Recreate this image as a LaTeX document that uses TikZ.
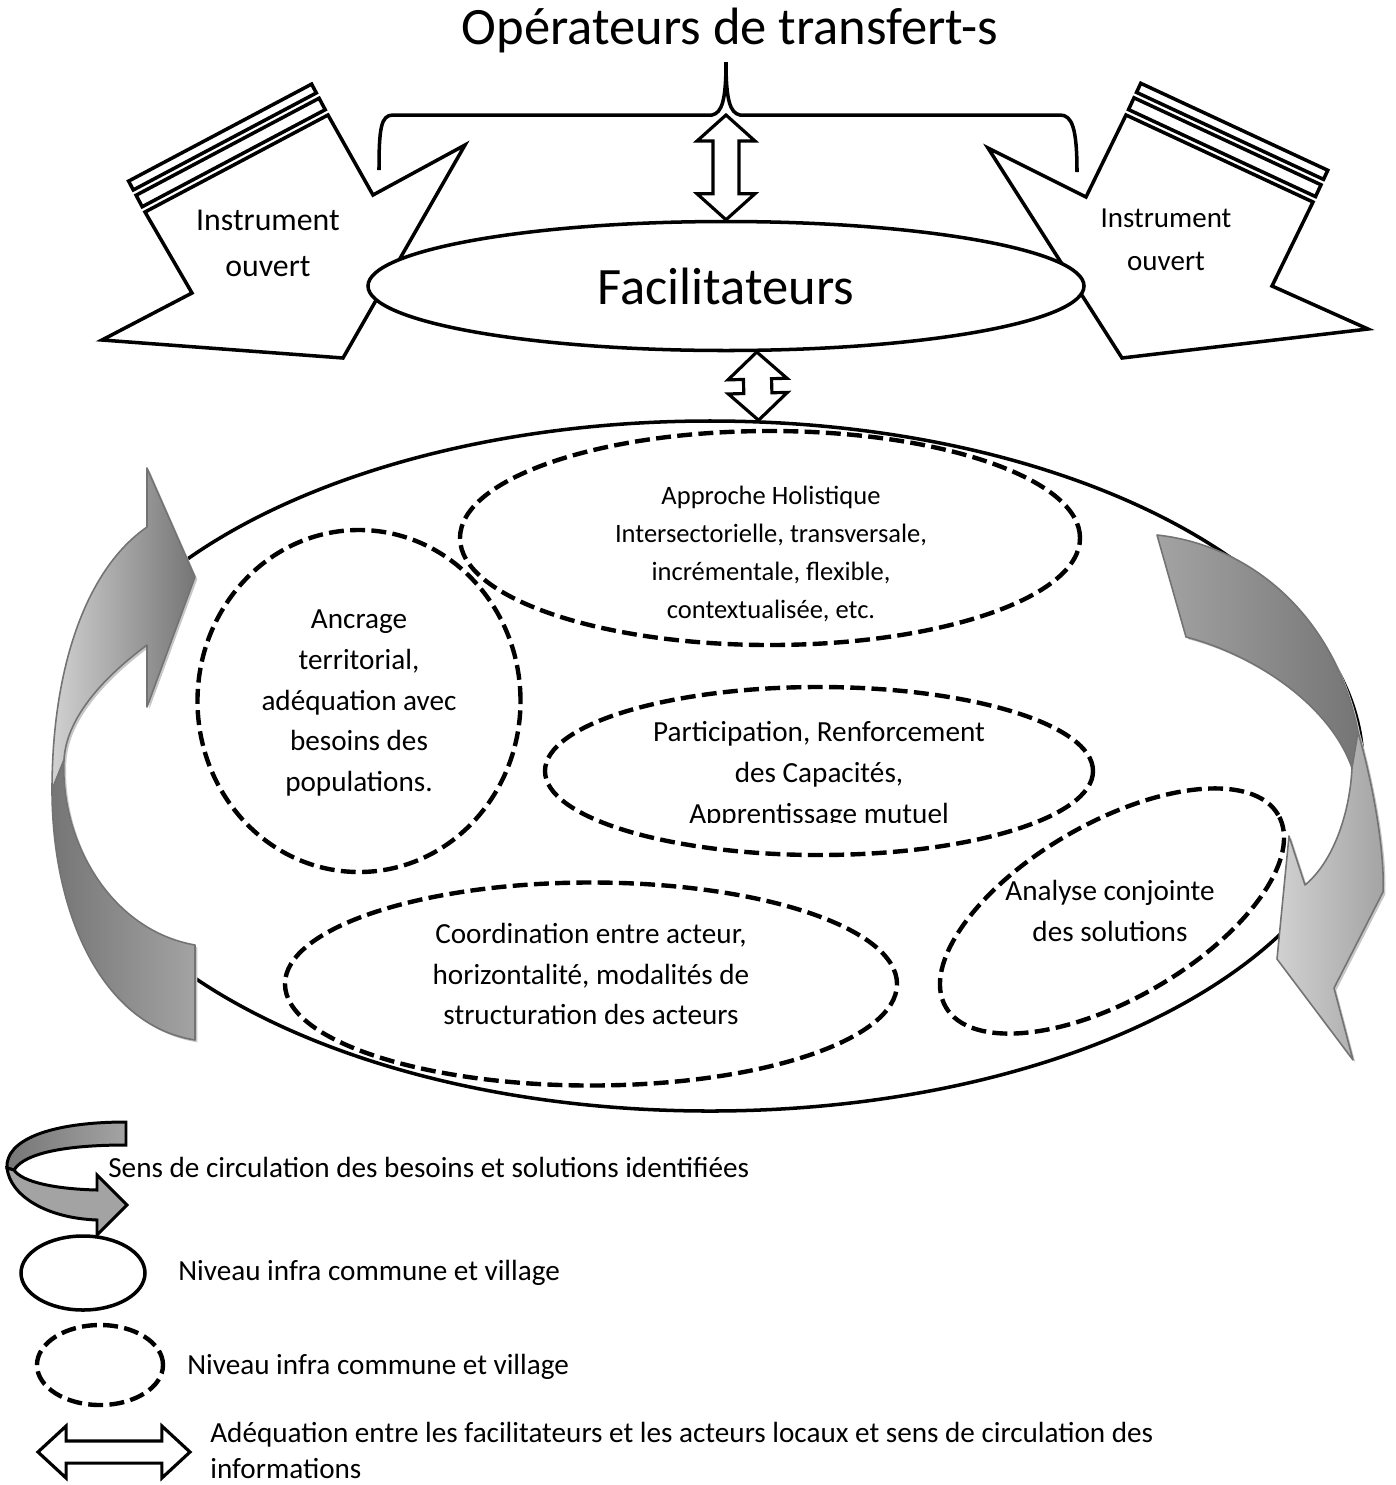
\documentclass[tikz,border=0pt]{standalone}
\usepackage{fontspec}
\setmainfont{Carlito}
\usetikzlibrary{shapes.geometric,calc,shadows}

\definecolor{ribbonlight}{gray}{0.82}
\definecolor{ribbonmid}{gray}{0.64}
\definecolor{ribbondark}{gray}{0.46}
\definecolor{ribbonedge}{gray}{0.45}
\definecolor{ribbonshade}{gray}{0.78}

\newcommand{\bigsize}{\fontsize{29.9}{36}\selectfont}
\newcommand{\bodysize}{\fontsize{16.6}{23.3}\selectfont}

% fat two-headed connector: from, to, shaft half width, head half width, head length
\newcommand{\twoway}[5]{%
  \draw[fatarrow] (#1)
    -- ($(#1)!#5!(#2)!#4!90:(#2)$)
    -- ($(#1)!#5!(#2)!#3!90:(#2)$)
    -- ($(#2)!#5!(#1)!#3!-90:(#1)$)
    -- ($(#2)!#5!(#1)!#4!-90:(#1)$)
    -- (#2)
    -- ($(#2)!#5!(#1)!#4!90:(#1)$)
    -- ($(#2)!#5!(#1)!#3!90:(#1)$)
    -- ($(#1)!#5!(#2)!#3!-90:(#2)$)
    -- ($(#1)!#5!(#2)!#4!-90:(#2)$)
    -- cycle;}
% band laid along the top edge a--b, between offsets #3 and #4
\newcommand{\stripe}[4]{%
  \draw[outline, fill=white] ($(#1)!#3!90:(#2)$) -- ($(#1)!#4!90:(#2)$)
    -- ($(#2)!#4!-90:(#1)$) -- ($(#2)!#3!-90:(#1)$) -- cycle;}

\begin{document}
\begin{tikzpicture}[
    x=0.2mm, y=-0.2mm,
    outline/.style={draw=black, line width=2pt, line join=miter},
    fatarrow/.style={draw=black, line width=1.8pt, fill=white, line join=miter},
    ring/.style={ellipse, draw=black, line width=2pt, inner sep=0pt},
    zone/.style={ellipse, draw=black, line width=2.5pt, inner sep=0pt,
                 dash pattern=on 8.5pt off 3.6pt},
    ztext/.style={align=center, font=\bodysize, inner sep=0pt},
    ribbon/.style={draw=ribbonedge, line width=0.9pt, line join=round,
                   drop shadow={shadow xshift=1.3pt, shadow yshift=-1.3pt,
                                fill=ribbonshade, opacity=1}},
    keyribbon/.style={draw=black, line width=1.7pt, line join=miter}]
  \useasboundingbox (0,0) rectangle (1396,1485);

  %% Title and brace
  \node[font=\bigsize] (title) at (730,30) {Opérateurs de transfert-s};
  \draw[outline] (379,170) .. controls (379,128) and (381,115) .. (393,115)
    -- (712,115) .. controls (722,113) and (726,100) .. (726,62)
    .. controls (726,100) and (730,113) .. (740,115)
    -- (1060,115) .. controls (1072,115) and (1077,128) .. (1077,172);
  \coordinate (bracetip) at (726,115);

  %% Open instrument, left
  \coordinate (la) at (145,212);
  \coordinate (lb) at (328,115);
  \draw[outline, fill=white] (la) -- (lb) -- (373,195) -- (465,145)
    -- (343,358) -- (102,340) -- (192,293) -- cycle;
  \stripe{la}{lb}{3.4pt}{10.8pt}
  \stripe{la}{lb}{14.2pt}{19.9pt}
  \node[align=center, font=\fontsize{18.1}{26.2}\selectfont] (instl) at (268,243)
    {Instrument\\ouvert};

  %% Open instrument, right
  \coordinate (ra) at (1126,115);
  \coordinate (rb) at (1313,202);
  \draw[outline, fill=white] (988,148) -- (1086,197) -- (ra) -- (rb)
    -- (1272,286) -- (1368,329) -- (1122,358) -- cycle;
  \stripe{ra}{rb}{3.4pt}{10.8pt}
  \stripe{ra}{rb}{14.2pt}{19.9pt}
  \node[align=center, font=\fontsize{16.5}{24.5}\selectfont] (instr) at (1166,240)
    {Instrument\\ouvert};

  %% Facilitators
  \node[ring, fill=white, minimum width=143.2mm, minimum height=25.8mm,
        font=\bigsize] (fac) at (726,286) {Facilitateurs};
  \twoway{bracetip}{fac.north}{7.4pt}{16.5pt}{14.8pt}

  %% Local level
  \node[ring, minimum width=261.2mm, minimum height=138mm] (commune) at (710,766) {};
  \twoway{fac.-65.6}{commune.82.5}{8pt}{16.8pt}{15.4pt}

  \node[zone, minimum width=124mm, minimum height=42.8mm] (holist) at (770,538) {};
  \node[ztext, font=\fontsize{15.1}{21.8}\selectfont] (holisttxt) at (771,554)
    {Approche Holistique\\Intersectorielle, transversale,\\incrémentale, flexible,\\contextualisée, etc.};
  \node[zone, minimum width=64.6mm, minimum height=68.4mm] (ancrage) at (359,701) {};
  \node[ztext] (ancragetxt) at (359,703)
    {Ancrage\\territorial,\\adéquation avec\\besoins des\\populations.};
  \node[zone, minimum width=109.6mm, minimum height=33.6mm] (partic) at (819,771) {};
  \begin{scope}
    \clip (540,690) rectangle (1100,822);
    \node[ztext] (partictxt) at (819,775)
      {Participation, Renforcement\\des Capacités,\\Apprentissage mutuel};
  \end{scope}
  \node[zone, rotate=30, minimum width=76.8mm, minimum height=35.2mm] (analyse) at (1112,911) {};
  \node[ztext] (analysetxt) at (1110,911) {Analyse conjointe\\des solutions};
  \node[zone, minimum width=122.4mm, minimum height=40.6mm] (coord) at (591,984) {};
  \node[ztext] (coordtxt) at (591,974)
    {Coordination entre acteur,\\horizontalité, modalités de\\structuration des acteurs};

  %% Circulation arrows, left
  \path[ribbon, left color=ribbonlight, right color=ribbondark]
    (52,790) .. controls (52,670) and (85,570) .. (147,527) -- (147,468)
    -- (195,577) -- (147,707) -- (147,645)
    .. controls (100,680) and (66,720) .. (64,760) -- cycle;
  \path[ribbon, left color=ribbondark, right color=ribbonmid]
    (52,790) .. controls (52,910) and (100,1025) .. (195,1040) -- (195,945)
    .. controls (110,930) and (60,840) .. (64,760) -- cycle;

  %% Circulation arrows, right
  \path[ribbon, left color=ribbonmid, right color=ribbondark]
    (1157,535) .. controls (1250,545) and (1335,615) .. (1358,732) -- (1352,768)
    .. controls (1330,705) and (1255,655) .. (1186,637) -- cycle;
  \path[ribbon, left color=ribbonlight, right color=ribbonmid]
    (1358,732) .. controls (1372,780) and (1385,850) .. (1383,892) -- (1334,988)
    -- (1353,1060) -- (1277,959) -- (1289,836) -- (1305,885)
    .. controls (1335,860) and (1350,810) .. (1352,768) -- cycle;

  %% Legend
  \path[keyribbon, left color=ribbondark, right color=ribbonmid]
    (126,1122) -- (126,1145) .. controls (70,1145) and (25,1152) .. (14,1170)
    -- (7,1168) .. controls (5,1140) and (50,1122) .. (126,1122) -- cycle;
  \path[keyribbon, fill=ribbonmid]
    (7,1168) .. controls (10,1195) and (45,1218) .. (97,1220) -- (97,1235)
    -- (127,1205) -- (97,1175) -- (97,1190)
    .. controls (55,1189) and (22,1182) .. (14,1170) -- cycle;
  \node[font=\bodysize, anchor=west, inner sep=0pt] (keyflow) at (108,1167)
    {Sens de circulation des besoins et solutions identifiées};

  \node[ring, minimum width=24.8mm, minimum height=14.8mm] (keyring) at (83,1273) {};
  \node[font=\bodysize, anchor=west, inner sep=0pt] (keyringtxt) at (178,1273)
    {Niveau infra commune et village};
  \node[zone, minimum width=25.2mm, minimum height=16mm] (keyzone) at (100,1365) {};
  \node[font=\bodysize, anchor=west, inner sep=0pt] (keyzonetxt) at (187,1367)
    {Niveau infra commune et village};

  \coordinate (keyl) at (38,1452);
  \coordinate (keyr) at (190,1452);
  \twoway{keyl}{keyr}{6.3pt}{14.8pt}{16pt}
  \node[anchor=west, align=left, inner sep=0pt,
        font=\fontsize{16.6}{20.5}\selectfont] (keyarrtxt) at (210,1450)
    {Adéquation entre les facilitateurs et les acteurs locaux et sens de circulation des\\informations};
\end{tikzpicture}
\end{document}
